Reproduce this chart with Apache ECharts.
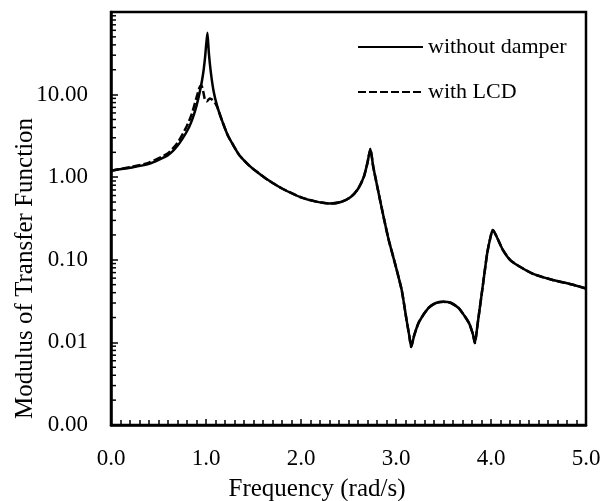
<!DOCTYPE html>
<html>
<head>
<meta charset="utf-8">
<script src="https://cdn.jsdelivr.net/npm/echarts@6/dist/echarts.min.js"></script>
<style>
html,body{margin:0;padding:0;background:#fff;}
#chart{width:602px;height:501px;}
</style>
</head>
<body>
<div id="chart"></div>
<script>
// ---- data ----
const freqSolid = [0, 0.2, 0.4, 0.6, 0.7, 0.8, 0.85, 0.9, 0.94, 0.97, 0.99, 1.0, 1.015, 1.03, 1.05, 1.08, 1.12, 1.17, 1.23, 1.3, 1.35, 1.4, 1.45, 1.5, 1.65, 1.8, 2.0, 2.15, 2.3, 2.42, 2.52, 2.6, 2.66, 2.7, 2.73, 2.76, 2.8, 2.85, 2.92, 2.99, 3.06, 3.11, 3.14, 3.16, 3.19, 3.24, 3.34, 3.42, 3.5, 3.58, 3.66, 3.72, 3.77, 3.81, 3.83, 3.86, 3.91, 3.96, 4.0, 4.02, 4.06, 4.12, 4.2, 4.3, 4.45, 4.65, 4.83, 5.0];
const withoutDamper = [1.2, 1.3, 1.45, 1.85, 2.4, 3.6, 4.8, 7.3, 11.5, 18, 28, 38, 56, 32, 19, 11, 7.1, 4.8, 3.2, 2.3, 1.85, 1.6, 1.4, 1.25, 0.93, 0.73, 0.57, 0.51, 0.48, 0.5, 0.57, 0.72, 1.0, 1.5, 2.2, 1.35, 0.8, 0.42, 0.18, 0.09, 0.043, 0.019, 0.012, 0.0088, 0.012, 0.0175, 0.026, 0.03, 0.031, 0.030, 0.026, 0.021, 0.017, 0.0125, 0.0098, 0.017, 0.045, 0.12, 0.2, 0.23, 0.19, 0.135, 0.1, 0.083, 0.067, 0.057, 0.051, 0.045];

const freqLCD = [0, 0.2, 0.4, 0.6, 0.7, 0.8, 0.85, 0.9, 0.93, 0.95, 0.97, 0.99, 1.01, 1.04, 1.07, 1.1, 1.12, 1.17, 1.23, 1.3, 1.35, 1.4, 1.45, 1.5, 1.65, 1.8, 2.0, 2.15, 2.3, 2.42, 2.52, 2.6, 2.66, 2.7, 2.73, 2.76, 2.8, 2.85, 2.92, 2.99, 3.06, 3.11, 3.14, 3.16, 3.19, 3.24, 3.34, 3.42, 3.5, 3.58, 3.66, 3.72, 3.77, 3.81, 3.83, 3.86, 3.91, 3.96, 4.0, 4.02, 4.06, 4.12, 4.2, 4.3, 4.45, 4.65, 4.83, 5.0];
const withLCD = [1.2, 1.32, 1.5, 1.95, 2.6, 4.2, 5.8, 9.2, 12, 13, 11, 8.6, 8.3, 9.0, 8.6, 7.8, 7.0, 4.8, 3.2, 2.3, 1.85, 1.6, 1.4, 1.25, 0.93, 0.73, 0.57, 0.51, 0.48, 0.5, 0.57, 0.72, 1.0, 1.5, 2.2, 1.35, 0.8, 0.42, 0.18, 0.09, 0.043, 0.019, 0.012, 0.0088, 0.012, 0.0175, 0.026, 0.03, 0.031, 0.030, 0.026, 0.021, 0.017, 0.0125, 0.0098, 0.017, 0.045, 0.12, 0.2, 0.23, 0.19, 0.135, 0.1, 0.083, 0.067, 0.057, 0.051, 0.045];

const seriesNames = ['without damper', 'with LCD'];
const xTicks = [0, 1, 2, 3, 4, 5];
const yDecades = [0.001, 0.01, 0.1, 1, 10, 100];
const yMinorTicks = [
  0.002, 0.003, 0.004, 0.005, 0.006, 0.007, 0.008, 0.009,
  0.02, 0.03, 0.04, 0.05, 0.06, 0.07, 0.08, 0.09,
  0.2, 0.3, 0.4, 0.5, 0.6, 0.7, 0.8, 0.9,
  2, 3, 4, 5, 6, 7, 8, 9,
  20, 30, 40, 50, 60, 70, 80, 90
];

const FONT = '"Liberation Serif", "Times New Roman", serif';
const zip = (xs, ys) => xs.map((x, i) => [x, ys[i]]);

const chart = echarts.init(document.getElementById('chart'), null, {renderer: 'canvas'});
chart.setOption({
  animation: false,
  backgroundColor: '#fff',
  grid: {
    left: 111, right: 16, top: 12, bottom: 76,
    containLabel: false, outerBoundsMode: 'none',
    show: true, borderColor: '#000', borderWidth: 2.5, backgroundColor: 'transparent'
  },
  legend: {
    orient: 'vertical',
    left: 357, top: 36, padding: 0,
    itemWidth: 65, itemHeight: 14, itemGap: 23,
    data: seriesNames,
    itemStyle: {opacity: 0},
    textStyle: {fontFamily: FONT, fontSize: 22, color: '#000'}
  },
  xAxis: {
    type: 'value',
    min: xTicks[0], max: xTicks[xTicks.length - 1], interval: 1,
    name: 'Frequency (rad/s)', nameLocation: 'middle', nameGap: 52, nameMoveOverlap: false,
    nameTextStyle: {fontFamily: FONT, fontSize: 25, color: '#000', padding: [0, 63, 0, 0]},
    axisLine: {show: true, lineStyle: {color: '#000', width: 2.5}},
    axisTick: {show: true, inside: true, length: 6, lineStyle: {color: '#000', width: 1.5}},
    minorTick: {show: true, splitNumber: 10, length: 5, lineStyle: {color: '#000', width: 1.5}},
    splitLine: {show: false},
    axisLabel: {fontFamily: FONT, fontSize: 23, color: '#000', margin: 22,
      formatter: v => v.toFixed(1)}
  },
  yAxis: {
    type: 'log', logBase: 10,
    min: yDecades[0], max: yDecades[yDecades.length - 1], splitNumber: 5,
    name: 'Modulus of Transfer Function', nameLocation: 'middle', nameGap: 73, nameRotate: 90,
    nameMoveOverlap: false,
    nameTextStyle: {fontFamily: FONT, fontSize: 25, color: '#000', padding: [0, 100, 0, 0]},
    axisLine: {show: true, lineStyle: {color: '#000', width: 2.5}},
    axisTick: {show: true, inside: true, length: 7, lineStyle: {color: '#000', width: 1.5}},
    splitLine: {show: false},
    axisLabel: {fontFamily: FONT, fontSize: 23, color: '#000', margin: 23,
      formatter: v => (v >= 99 ? '' : Number(v).toFixed(2))}
  },
  series: [
    {
      name: seriesNames[0], type: 'line', symbol: 'none', smooth: 0.2,
      data: zip(freqSolid, withoutDamper),
      lineStyle: {color: '#000', width: 2.5}, itemStyle: {color: '#000'}, z: 3
    },
    {
      name: seriesNames[1], type: 'line', symbol: 'none', smooth: 0.2,
      data: zip(freqLCD, withLCD),
      lineStyle: {color: '#000', width: 2.5, type: [8, 3]}, itemStyle: {color: '#000'}, z: 4
    },
    {
      name: 'yMinor', type: 'custom', silent: true, z: 5,
      data: yMinorTicks.map(v => [0, v]),
      encode: {x: 0, y: 1},
      renderItem: function (params, api) {
        const p = api.coord([0, api.value(1)]);
        return {
          type: 'line',
          shape: {x1: p[0], y1: p[1], x2: p[0] + 5, y2: p[1]},
          style: {stroke: '#000', lineWidth: 1.5}
        };
      }
    }
  ]
});
</script>
</body>
</html>
